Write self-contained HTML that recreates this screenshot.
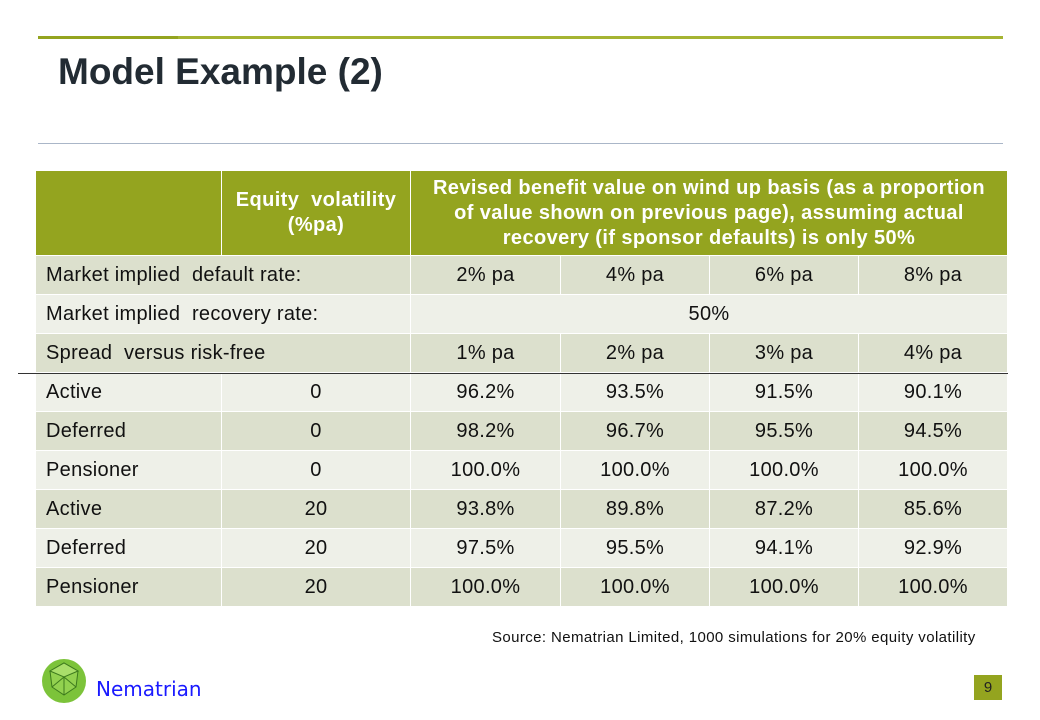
<!DOCTYPE html>
<html><head><style>
body{margin:0;width:1040px;height:720px;background:#fff;position:relative;font-family:"Liberation Sans",Arial,sans-serif;overflow:hidden}
.a{position:absolute}
.c{position:absolute;display:flex;align-items:center;justify-content:center;font-size:20px;letter-spacing:0.3px;color:#111;box-sizing:border-box;white-space:nowrap}
.l{justify-content:flex-start;padding-left:10px}
.h{color:#fff;font-weight:bold;text-align:center;line-height:25px;font-size:20px;letter-spacing:0.4px}
</style></head><body>
<div class="a" style="left:38px;top:36px;width:140px;height:3px;background:#94a41f"></div>
<div class="a" style="left:178px;top:36px;width:825px;height:3px;background:#a5b432"></div>
<div class="a" style="left:58px;top:51px;font-size:37px;font-weight:bold;color:#222b33">Model Example (2)</div>
<div class="a" style="left:38px;top:143px;width:965px;height:1px;background:#aab6c8"></div>
<div id="t"></div>
<div class="a" style="left:18px;top:373px;width:990px;height:1px;background:#333"></div>
<div class="a" style="left:492px;top:629px;font-size:15px;letter-spacing:0.4px;color:#111">Source: Nematrian Limited, 1000 simulations for 20% equity volatility</div>
<svg class="a" style="left:40px;top:657px" width="50" height="48" viewBox="0 0 50 48">
<circle cx="24" cy="24" r="22" fill="#7cc33a"/>
<polygon points="10,14 24,6 38,14 36,30 24,38 12,30" fill="#92d14f" stroke="#3d7a1d" stroke-width="1"/>
<polygon points="24,6 38,14 24,20 10,14" fill="#a9de6a" stroke="#3d7a1d" stroke-width="1"/>
<path d="M24,20 L24,38 M24,20 L36,30 M24,20 L12,30" stroke="#3d7a1d" stroke-width="1"/>
</svg>
<div class="a" style="left:96px;top:677px;font-size:20px;color:#1a1aff;font-family:'DejaVu Sans',sans-serif">Nematrian</div>
<div class="a" style="left:974px;top:675px;width:28px;height:25px;background:#94a41f;color:#222;font-size:15px;display:flex;align-items:center;justify-content:center">9</div>
<script>
var X=[36,222,411,561,710,859,1008];
var T=document.getElementById('t'),s='';
function cell(x0,x1,y0,y1,bg,txt,cls){s+='<div class="c '+(cls||'')+'" style="left:'+x0+'px;top:'+y0+'px;width:'+(x1-x0)+'px;height:'+(y1-y0)+'px;background:'+bg+';border-right:1.5px solid #fff;border-bottom:1.5px solid #fff">'+txt+'</div>';}
var G='#94a41f';
cell(36,222,171,256,G,'');
cell(222,411,171,256,G,'Equity&nbsp; volatility<br>(%pa)','h');
cell(411,1008,171,256,G,'Revised benefit value on wind up basis (as a proportion<br>of value shown on previous page), assuming actual<br>recovery (if sponsor defaults) is only 50%','h');
var D='#dce0cd',L='#eef0e8';
var y=256,h=39;
cell(36,411,y,y+h,D,'Market implied&nbsp; default rate:','l');
['2% pa','4% pa','6% pa','8% pa'].forEach(function(t,i){cell(X[i+2],X[i+3],y,y+h,D,t)});y+=h;
cell(36,411,y,y+h,L,'Market implied&nbsp; recovery rate:','l');cell(411,1008,y,y+h,L,'50%');y+=h;
cell(36,411,y,y+h,D,'Spread&nbsp; versus risk-free','l');
['1% pa','2% pa','3% pa','4% pa'].forEach(function(t,i){cell(X[i+2],X[i+3],y,y+h,D,t)});y+=h;
var R=[['Active','0','96.2%','93.5%','91.5%','90.1%'],['Deferred','0','98.2%','96.7%','95.5%','94.5%'],['Pensioner','0','100.0%','100.0%','100.0%','100.0%'],['Active','20','93.8%','89.8%','87.2%','85.6%'],['Deferred','20','97.5%','95.5%','94.1%','92.9%'],['Pensioner','20','100.0%','100.0%','100.0%','100.0%']];
R.forEach(function(r,k){var bg=k%2?D:L;r.forEach(function(t,i){cell(X[i],X[i+1],y,y+h,bg,t,i==0?'l':'')});y+=h;});
T.innerHTML=s;
</script>
</body></html>
